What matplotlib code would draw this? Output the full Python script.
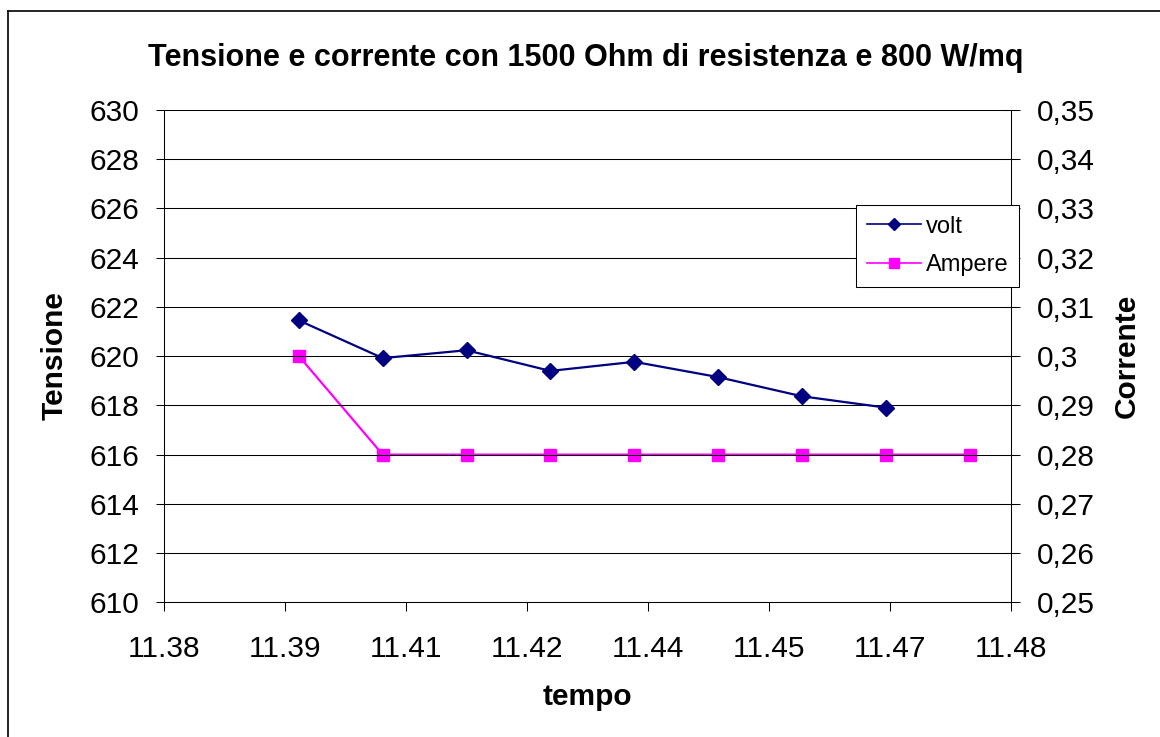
import numpy as np
import matplotlib
matplotlib.use("Agg")
import matplotlib.pyplot as plt
from matplotlib.lines import Line2D

plt.rcParams['font.family'] = ['Liberation Sans', 'DejaVu Sans']

# ---- data ----
tempo_volt = [11.3959, 11.4058, 11.4157, 11.4256, 11.4355, 11.4454, 11.4553, 11.4652]
volt = [621.45, 619.92, 620.24, 619.40, 619.77, 619.15, 618.37, 617.91]
tempo_ampere = [11.3959, 11.4058, 11.4157, 11.4256, 11.4355, 11.4454, 11.4553, 11.4652, 11.4751]
ampere = [0.30, 0.28, 0.28, 0.28, 0.28, 0.28, 0.28, 0.28, 0.28]
x_tick_labels = ['11.38', '11.39', '11.41', '11.42', '11.44', '11.45', '11.47', '11.48']
y_left_ticks = [610, 612, 614, 616, 618, 620, 622, 624, 626, 628, 630]
y_right_ticks = [0.25, 0.26, 0.27, 0.28, 0.29, 0.30, 0.31, 0.32, 0.33, 0.34, 0.35]
y_right_labels = ['0,25', '0,26', '0,27', '0,28', '0,29', '0,3', '0,31', '0,32', '0,33', '0,34', '0,35']
title = 'Tensione e corrente con 1500 Ohm di resistenza e 800 W/mq'

W, H = 1160, 737
fig = plt.figure(figsize=(W / 100, H / 100), dpi=100)
fig.patch.set_facecolor('white')

L, R, T, B = 164.3, 1011, 110, 602.3
ax = fig.add_axes([L / W, 1 - B / H, (R - L) / W, (B - T) / H])
ax2 = ax.twinx()

lw = 0.75
ax.set_ylim(610, 630)
ax.set_yticks(y_left_ticks)
ax.grid(axis='y', color='black', linewidth=lw)
ax.set_axisbelow(True)
xt = np.linspace(11.38, 11.48, len(x_tick_labels))
ax.set_xlim(xt[0], xt[-1])
ax.set_xticks(xt)
ax.set_xticklabels(x_tick_labels)

ax2.set_ylim(y_right_ticks[0], y_right_ticks[-1])
ax2.set_yticks(y_right_ticks)
ax2.set_yticklabels(y_right_labels)

l1, = ax.plot(tempo_volt, volt, color='#000080', marker='D', markersize=8,
              linewidth=1.6, label='volt', zorder=5)
l2, = ax2.plot(tempo_ampere, ampere, color='#FF00FF', marker='s', markersize=8,
               linewidth=1.6, label='Ampere', zorder=5)
ax.set_zorder(ax2.get_zorder() + 1)
ax.patch.set_visible(False)

for a in (ax, ax2):
    for s in a.spines.values():
        s.set_visible(False)
ax.spines['left'].set_visible(True)
ax.spines['bottom'].set_visible(True)
ax2.spines['right'].set_visible(True)
for s in (ax.spines['left'], ax.spines['bottom'], ax2.spines['right']):
    s.set_color('black')
    s.set_linewidth(lw)

ax.tick_params(axis='x', direction='out', length=6.5, width=lw, pad=17, labelsize=21.5)
ax.tick_params(axis='y', direction='out', length=6, width=lw, pad=12, labelsize=21.5)
ax2.tick_params(axis='y', direction='inout', length=13, width=lw, pad=12, labelsize=21.5)

fig.text(586 / W, 1 - 58 / H, title, ha='center', va='center',
         fontsize=22, fontweight='bold')
fig.text(587 / W, 1 - 697 / H, 'tempo', ha='center', va='center',
         fontsize=21.5, fontweight='bold')
fig.text(55 / W, 1 - 356 / H, 'Tensione', ha='center', va='center',
         rotation=90, fontsize=21.5, fontweight='bold')
fig.text(1127 / W, 1 - 356 / H, 'Corrente', ha='center', va='center',
         rotation=90, fontsize=21.5, fontweight='bold')

leg = fig.legend(handles=[l1, l2], loc='upper left',
                 bbox_to_anchor=(856 / W, 1 - 205 / H), fontsize=17,
                 frameon=True, fancybox=False, framealpha=1, edgecolor='black',
                 borderpad=0.45, labelspacing=0.7, handlelength=2.3,
                 handletextpad=0.2, borderaxespad=0)
leg.get_frame().set_linewidth(lw)
for h in leg.legend_handles:
    h.set_linewidth(1.2)
    h.set_markersize(6.5)

# outer chart frame (left and top visible)
fig.add_artist(Line2D([8 / W, 8 / W], [0, 1 - 11 / H], transform=fig.transFigure,
                      color='black', linewidth=1.2))
fig.add_artist(Line2D([8 / W, 1], [1 - 11 / H, 1 - 11 / H], transform=fig.transFigure,
                      color='black', linewidth=1.2))

fig.savefig('out.png', dpi=100, facecolor='white')
